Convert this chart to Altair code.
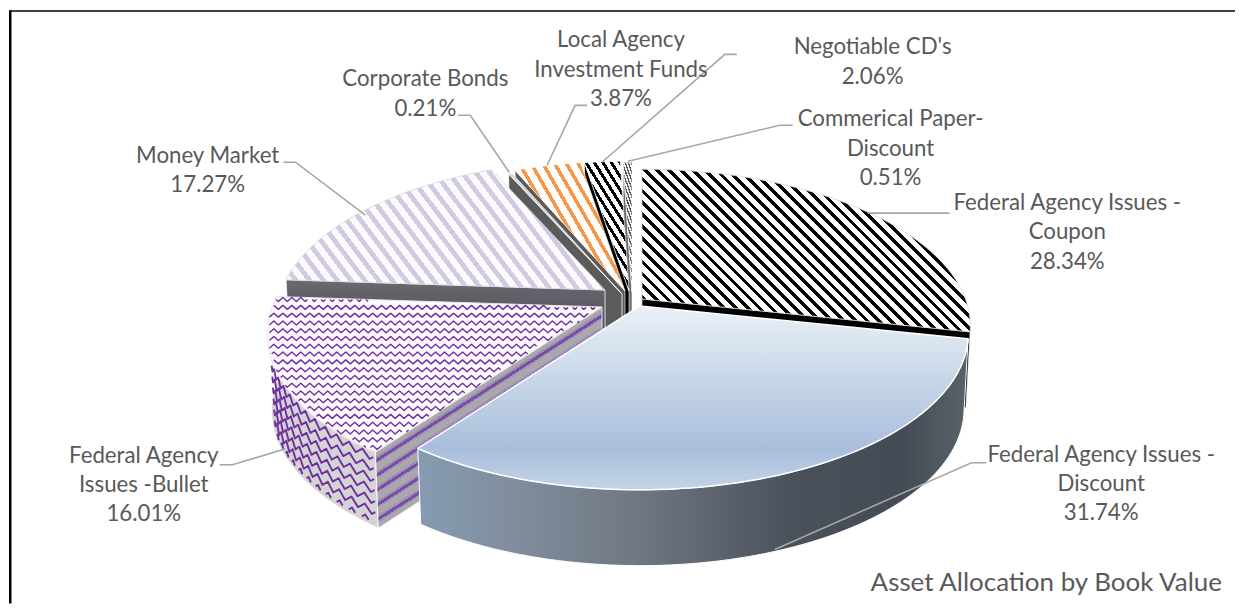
import numpy as np
import pandas as pd
import altair as alt

# ---- values ----
names = ["Federal Agency Issues - Coupon", "Federal Agency Issues - Discount",
         "Federal Agency Issues -Bullet", "Money Market", "Corporate Bonds",
         "Local Agency Investment Funds", "Negotiable CD's", "Commerical Paper-Discount"]
shares = [28.34, 31.74, 16.01, 17.27, 0.21, 3.87, 2.06, 0.51]

label_text = [
    ["Federal Agency Issues -", "Coupon", "28.34%"],
    ["Federal Agency Issues -", "Discount", "31.74%"],
    ["Federal Agency", "Issues -Bullet", "16.01%"],
    ["Money Market", "17.27%"],
    ["Corporate Bonds", "0.21%"],
    ["Local Agency", "Investment Funds", "3.87%"],
    ["Negotiable CD's", "2.06%"],
    ["Commerical Paper-", "Discount", "0.51%"],
]
label_cx = [1068, 1102, 143, 207, 425, 621, 873, 891]
label_y0 = [201, 453, 454, 154, 77, 38, 45, 117]
title_text = "Asset Allocation by Book Value"

# ---- layout (pixels of the window) ----
OX, OY = 8, 8
W, H = 1228, 594
A, B, K = 324.0, 152.4, 0.172     # perspective of the pie plane
D = 76.0                          # thickness
apex = [(642, 297), (640, 304), (602, 305), (605, 288), (622, 292), (625, 289), (629, 289), (632, 290)]
zoom = [1.0, 1.0, 1.02, 1.0, 1.0, 1.0, 1.0, 1.0]

leaders = [
    [(868, 211), (950, 211)],
    [(775, 548), (972, 461), (987, 461)],
    [(219, 463), (232, 463), (285, 447)],
    [(283, 160), (295, 160), (365, 213)],
    [(458, 113), (470, 113), (509, 170)],
    [(587, 103), (575, 103), (547, 163)],
    [(737, 52), (725, 52), (602, 160)],
    [(793, 123), (780, 123), (628, 159)],
]

edges = np.concatenate([[0], np.cumsum(shares)]) / sum(shares) * 360.0
xs = alt.Scale(domain=[0, W], range=[0, W], nice=False, zero=False)
ys = alt.Scale(domain=[0, H], range=[0, H], nice=False, zero=False)
XE = alt.X("x:Q", scale=xs, axis=None)
YE = alt.Y("y:Q", scale=ys, axis=None)


def pt(i, th, z=0.0):
    t = np.radians(th)
    u, v = np.sin(t), -np.cos(t)
    d = 1 - K * v
    s = zoom[i] * (1 - 0.013 * z / D)
    return (apex[i][0] + s * A * u / d, apex[i][1] + zoom[i] * B * v / d + z)


def rim(i, a, b, z=0.0, step=1.5):
    n = max(2, int(abs(b - a) / step) + 1)
    return [pt(i, th, z) for th in np.linspace(a, b, n)]


def top_poly(i):
    return [apex[i]] + rim(i, edges[i], edges[i + 1]) + [apex[i]]


def radial_wall(i, th):
    p, q = apex[i], pt(i, th)
    r = pt(i, th, D)
    return [p, q, r, (p[0], p[1] + D), p]


def rim_wall(i, a, b):
    up = rim(i, a, b)
    lo = rim(i, a, b, D)
    return up + lo[::-1] + [up[0]]


def stripes(poly, ang, bands):
    """Repeating hard-stop gradient; stripes run at ang degrees (screen, y down)."""
    P = np.array(poly, float)
    x0, y0 = P.min(0)
    x1, y1 = P.max(0)
    w, h = max(x1 - x0, 1), max(y1 - y0, 1)
    sx, sy = np.cos(np.radians(ang)), np.sin(np.radians(ang))
    dx, dy = sy / h, -sx / w
    cs = [uu * dx + vv * dy for uu in (0, 1) for vv in (0, 1)]
    cmin, cmax = min(cs), max(cs)
    n2 = dx * dx + dy * dy
    L = (cmax - cmin) * w * h
    n0 = x0 * sy - y0 * sx + cmin * w * h
    period = sum(b[1] for b in bands)
    k = np.floor(n0 / period)
    pos = k * period
    stops = []
    while pos < n0 + L:
        for col, wid in bands:
            a = (pos - n0) / L
            b = (pos + wid - n0) / L
            if b > 0 and a < 1:
                stops.append({"offset": float(max(a, 0)), "color": col})
                stops.append({"offset": float(min(b, 1)), "color": col})
            pos += wid
    return {"gradient": "linear", "x1": float(dx * cmin / n2), "y1": float(dy * cmin / n2),
            "x2": float(dx * cmax / n2), "y2": float(dy * cmax / n2), "stops": stops}


def ramp(x1, y1, x2, y2, pairs):
    return {"gradient": "linear", "x1": x1, "y1": y1, "x2": x2, "y2": y2,
            "stops": [{"offset": o, "color": c} for o, c in pairs]}


def poly(pts, fill, stroke="#ffffff", sw=1.0):
    df = pd.DataFrame({"x": [p[0] - OX for p in pts], "y": [p[1] - OY for p in pts], "i": range(len(pts))})
    return alt.Chart(df).mark_line(fill=fill, stroke=stroke, strokeWidth=sw, interpolate="linear",
                                   strokeJoin="round").encode(x=XE, y=YE, order=alt.Order("i:Q"))


def inside(P, poly_pts):
    Q = np.array(poly_pts)
    x, y = P[:, 0], P[:, 1]
    c = np.zeros(len(P), bool)
    for j in range(len(Q) - 1):
        a, b = Q[j], Q[j + 1]
        cond = (a[1] > y) != (b[1] > y)
        with np.errstate(divide="ignore", invalid="ignore"):
            xi = a[0] + (y - a[1]) * (b[0] - a[0]) / (b[1] - a[1])
        c ^= cond & (x < xi)
    return c


def wave_lines(rows, color, sw):
    recs = []
    seg = 0
    for row in rows:
        for s in row:
            if len(s) < 2:
                continue
            for n, p in enumerate(s):
                recs.append({"x": p[0] - OX, "y": p[1] - OY, "seg": seg, "i": n})
            seg += 1
    return alt.Chart(pd.DataFrame(recs)).mark_line(stroke=color, strokeWidth=sw, strokeJoin="round").encode(
        x=XE, y=YE, detail="seg:N", order=alt.Order("i:Q"))


def split_runs(P, keep):
    runs, cur = [], []
    for p, f in zip(P, keep):
        if f:
            cur.append((float(p[0]), float(p[1])))
        elif cur:
            runs.append(cur)
            cur = []
    if cur:
        runs.append(cur)
    return runs


layers = []

# --- back slices, small ones first
i = 7
layers += [poly(radial_wall(i, edges[i]), "#6d6d6d", "#ffffff", 0.6),
           poly(top_poly(i), stripes(top_poly(i), 70, [("#555555", 1.3), ("#f2f2f2", 1.5)]), "#ffffff", 0.6)]
i = 6
layers += [poly(radial_wall(i, edges[i]), "#000000", "#ffffff", 0.6),
           poly(top_poly(i), stripes(top_poly(i), 58, [("#000000", 3.0), ("#ffffff", 4.2)]), "#ffffff", 0.6)]
i = 5
layers += [poly(radial_wall(i, edges[i]), "#5e5a55", "#ffffff", 0.6),
           poly(top_poly(i), stripes(top_poly(i), 60, [("#f79646", 3.6), ("#ffffff", 6.6)]), "#ffffff", 0.6)]
i = 4
layers += [poly(radial_wall(i, edges[i]), "#5b5b5b", "#ffffff", 0.8),
           poly(top_poly(i), "#d9d9d9", "#ffffff", 0.6)]

# --- Money Market
i = 3
mw = radial_wall(i, edges[i])
layers += [poly(mw, ramp(0, 0, 0, 1, [(0, "#6a6a6e"), (0.5, "#55505f"), (1, "#6a6a6a")]), "#ffffff", 0.8)]
layers += [poly(top_poly(i), stripes(top_poly(i), 53, [("#d3c9e3", 4.8), ("#fbfafc", 6.2)]), "#d9d9d9", 0.8)]

# --- Coupon
i = 0
layers += [poly(radial_wall(i, edges[i + 1]), "#000000", "#ffffff", 0.6)]
layers += [poly(top_poly(i), stripes(top_poly(i), 45, [("#000000", 3.4), ("#ffffff", 5.0)]), "#d9d9d9", 0.8)]

# --- Bullet
i = 2
bw = rim_wall(i, edges[i], 272)
layers += [poly(bw, "#d4d4d4", "#ffffff", 1.0)]
rows = []
for z in np.arange(6, D, 11):
    ths = np.arange(edges[i] + 0.5, 252, 0.75)
    pts = []
    for n, th in enumerate(ths):
        p = pt(i, th, z)
        pts.append((p[0], p[1] + (3.5 if n % 4 == 1 else (-3.5 if n % 4 == 3 else 0))))
    P = np.array(pts)
    rows.append(split_runs(P, (P[:, 1] < np.array([pt(i, th, D)[1] for th in ths]) - 1)))
layers += [wave_lines(rows, "#7030a0", 1.9)]
rw = radial_wall(i, edges[i])
layers += [poly(rw, stripes(rw, float(np.degrees(np.arctan2(rw[1][1] - rw[0][1], rw[1][0] - rw[0][0]))),
                            [("#a9a9a9", 6.0), ("#a08cbd", 2.0), ("#75539c", 3.0), ("#a695c4", 1.6)]),
                "#ffffff", 0.8)]
tp = top_poly(i)
layers += [poly(tp, "#fdfbfe", "#e6e6e6", 1.0)]
Tp = np.array(tp)
rows = []
for y in np.arange(Tp[:, 1].min() + 3, Tp[:, 1].max(), 7.8):
    xx = np.arange(Tp[:, 0].min(), Tp[:, 0].max() + 3, 2.25)
    yy = y + np.array([0, 2.0, 0, -2.0])[np.arange(len(xx)) % 4]
    P = np.column_stack([xx, yy])
    rows.append(split_runs(P, inside(P, tp)))
layers += [wave_lines(rows, "#7030a0", 1.4)]

# --- Discount
i = 1
dw = rim_wall(i, edges[i], edges[i + 1])
layers += [poly(dw, ramp(0, 0, 1, 0, [(0, "#869bb2"), (0.18, "#808d9c"), (0.4, "#6f7782"),
                                      (0.68, "#4a515b"), (0.88, "#434b55"), (1, "#5a6268")]), "#ffffff", 1.0)]
layers += [poly(top_poly(i), ramp(0, 0, 0, 1, [(0, "#eaf0f8"), (0.3, "#d0ddeb"), (0.78, "#a8bedb"),
                                               (1, "#c5d4e7")]), "#ffffff", 1.5)]

# --- leader lines
recs = []
for n, line in enumerate(leaders):
    for m, p in enumerate(line):
        recs.append({"x": p[0] - OX, "y": p[1] - OY, "seg": n, "i": m})
layers += [alt.Chart(pd.DataFrame(recs)).mark_line(stroke="#a6a6a6", strokeWidth=1.6).encode(
    x=XE, y=YE, detail="seg:N", order=alt.Order("i:Q"))]

# --- labels
LINE = 29.3
recs = []
for lines, cx, y0 in zip(label_text, label_cx, label_y0):
    for n, t in enumerate(lines):
        recs.append({"x": cx - OX, "y": y0 + n * LINE - OY, "t": t})
layers += [alt.Chart(pd.DataFrame(recs)).mark_text(font="Lato", fontSize=22.3, color="#595959", align="center",
                                                   baseline="middle").encode(x=XE, y=YE, text="t:N")]
layers += [alt.Chart(pd.DataFrame({"x": [871 - OX], "y": [581 - OY], "t": [title_text]})).mark_text(
    font="Lato", fontSize=26, color="#595959", align="left", baseline="middle").encode(x=XE, y=YE, text="t:N")]

# --- frame (top and left edge only are in view)
layers += [alt.Chart(pd.DataFrame({"x": [0], "x2": [W], "y": [0.5]})).mark_rule(color="#000000", strokeWidth=1.5).encode(
    x=XE, x2="x2:Q", y=YE)]
layers += [alt.Chart(pd.DataFrame({"x": [1.25], "y": [0], "y2": [H]})).mark_rule(color="#000000", strokeWidth=2.5).encode(
    x=XE, y=YE, y2="y2:Q")]

chart = alt.layer(*layers).properties(width=W, height=H, padding=0, background="#ffffff").configure_view(stroke=None)
chart.save("out.html", embed_options={"renderer": "svg", "actions": False})
